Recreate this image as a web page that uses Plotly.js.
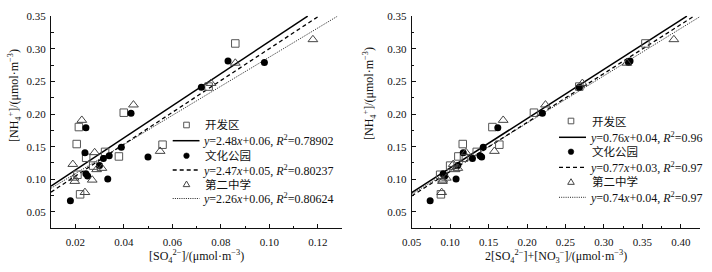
<!DOCTYPE html>
<html><head><meta charset="utf-8">
<script src="https://cdn.plot.ly/plotly-3.0.1.min.js"></script>
<style>html,body{margin:0;padding:0;background:#fff}#chart{width:712px;height:272px}</style>
</head><body><div id="chart"></div>
<script>
// ---------- data: left panel, x = [SO4 2-], y = [NH4+] ----------
const siteNames = ['开发区', '文化公园', '第二中学'];
const kfqSO4 = [0.0215, 0.0206, 0.0245, 0.0209, 0.022, 0.0323, 0.0274, 0.038, 0.040, 0.056, 0.075, 0.086];
const kfqNH4 = [0.180, 0.154, 0.133, 0.107, 0.077, 0.142, 0.121, 0.135, 0.202, 0.153, 0.242, 0.308];
const whgySO4 = [0.018, 0.0244, 0.024, 0.0244, 0.0251, 0.0316, 0.030, 0.034, 0.0334, 0.039, 0.043, 0.050, 0.072, 0.083, 0.098];
const whgyNH4 = [0.067, 0.179, 0.1405, 0.1086, 0.105, 0.132, 0.121, 0.136, 0.1005, 0.149, 0.201, 0.134, 0.241, 0.281, 0.279];
const dezxSO4 = [0.0227, 0.019, 0.0195, 0.0198, 0.024, 0.028, 0.027, 0.0288, 0.031, 0.044, 0.055, 0.076, 0.086, 0.118];
const dezxNH4 = [0.1905, 0.123, 0.102, 0.097, 0.080, 0.141, 0.099, 0.115, 0.117, 0.214, 0.143, 0.247, 0.278, 0.314];
// ---------- data: right panel, x = 2[SO4 2-]+[NO3-] ----------
const kfqSN = [0.155, 0.1164, 0.118, 0.087, 0.088, 0.1346, 0.100, 0.1107, 0.209, 0.164, 0.268, 0.354];
const whgySN = [0.074, 0.162, 0.117, 0.091, 0.093, 0.129, 0.110, 0.139, 0.1077, 0.143, 0.220, 0.141, 0.268, 0.334, 0.332];
const dezxSN = [0.169, 0.104, 0.095, 0.090, 0.089, 0.1207, 0.0903, 0.1064, 0.110, 0.224, 0.1576, 0.272, 0.330, 0.391];
// ---------- fitted lines (slope, intercept as drawn) ----------
const leftSlopes = [2.46, 2.44, 2.23];
const leftIntercepts = [0.065, 0.056, 0.064];
const rightSlopes = [0.755, 0.75, 0.725];
const rightIntercepts = [0.042, 0.037, 0.041];
const leftEqLabels = [
  '<i>y</i>=2.48<i>x</i>+0.06, <i>R</i><sup>2</sup>=0.78902',
  '<i>y</i>=2.47<i>x</i>+0.05, <i>R</i><sup>2</sup>=0.80237',
  '<i>y</i>=2.26<i>x</i>+0.06, <i>R</i><sup>2</sup>=0.80624'];
const rightEqLabels = [
  '<i>y</i>=0.76<i>x</i>+0.04, <i>R</i><sup>2</sup>=0.96',
  '<i>y</i>=0.77<i>x</i>+0.03, <i>R</i><sup>2</sup>=0.97',
  '<i>y</i>=0.74<i>x</i>+0.04, <i>R</i><sup>2</sup>=0.97'];
const xTickLeft = 0.02, xTickRight = 0.05, yTick = 0.05;

// ---------- styles ----------
const W = 712, H = 272;
const SERIF = 'Liberation Serif, Times New Roman, serif';
const CJK = 'Liberation Serif, Noto Sans CJK SC, serif';
const markerStyles = [
  {symbol: 'square-open', size: 7.5, color: '#555', line: {width: 1, color: '#555'}},
  {symbol: 'circle', size: 7, color: '#000', line: {width: 0}},
  {symbol: 'triangle-up-open', size: 8.5, color: '#444', line: {width: 1, color: '#444'}}
];
const lineStyles = [
  {color: '#000', width: 1.5, dash: 'solid'},
  {color: '#000', width: 1.3, dash: '4px,3px'},
  {color: '#222', width: 1, dash: '1px,1.2px'}
];
const xRangeL = [0.01, 0.13], xRangeR = [0.05, 0.425], yRange = [0.025, 0.3505];
const yMax = 0.35;

function fitLine(m, b, xr) {
  const x0 = xr[0];
  const x1 = Math.min(xr[1], (yMax - b) / m);
  return {x: [x0, x1], y: [m * x0 + b, m * x1 + b]};
}

const traces = [];
const leftX = [kfqSO4, whgySO4, dezxSO4], leftY = [kfqNH4, whgyNH4, dezxNH4];
const rightX = [kfqSN, whgySN, dezxSN];
for (let i = 0; i < 3; i++) {
  const l = fitLine(leftSlopes[i], leftIntercepts[i], xRangeL);
  traces.push({x: l.x, y: l.y, mode: 'lines', line: lineStyles[i], xaxis: 'x', yaxis: 'y', name: leftEqLabels[i], hoverinfo: 'skip'});
  const r = fitLine(rightSlopes[i], rightIntercepts[i], xRangeR);
  traces.push({x: r.x, y: r.y, mode: 'lines', line: lineStyles[i], xaxis: 'x2', yaxis: 'y2', name: rightEqLabels[i], hoverinfo: 'skip'});
}
for (let i = 0; i < 3; i++) {
  traces.push({x: leftX[i], y: leftY[i], mode: 'markers', marker: markerStyles[i], xaxis: 'x', yaxis: 'y', name: siteNames[i]});
  traces.push({x: rightX[i], y: leftY[i], mode: 'markers', marker: markerStyles[i], xaxis: 'x2', yaxis: 'y2', name: siteNames[i]});
}

// ---------- axes ----------
const px = v => v / W, py = v => 1 - v / H;
const axisCommon = {
  showline: true, linecolor: '#111', linewidth: 1.2, mirror: false,
  ticks: 'inside', ticklen: 4, tickwidth: 1, tickcolor: '#111',
  showgrid: false, zeroline: false, tickformat: '.2f',
  tickfont: {family: SERIF, size: 11, color: '#111'}
};
const yDomain = [py(228.3), py(15.7)];
const layout = {
  width: W, height: H, showlegend: false,
  margin: {l: 0, r: 0, t: 0, b: 0, pad: 0},
  paper_bgcolor: '#fff', plot_bgcolor: '#fff',
  font: {family: SERIF, size: 11, color: '#111'},
  xaxis: Object.assign({}, axisCommon, {domain: [px(51), px(342)], range: xRangeL, dtick: xTickLeft, tick0: 0, ticklabelstandoff: 3,
    minor: {dtick: xTickLeft / 2, ticks: 'inside', ticklen: 2.5, tickcolor: '#111'}, anchor: 'y'}),
  yaxis: Object.assign({}, axisCommon, {domain: yDomain, range: yRange, dtick: yTick, tick0: 0, ticklabelstandoff: 2,
    minor: {dtick: yTick / 2, ticks: 'inside', ticklen: 2.5, tickcolor: '#111'}, anchor: 'x'}),
  xaxis2: Object.assign({}, axisCommon, {domain: [px(411.7), px(700)], range: xRangeR, dtick: xTickRight, tick0: 0, ticklabelstandoff: 3,
    minor: {dtick: xTickRight / 2, ticks: 'inside', ticklen: 2.5, tickcolor: '#111'}, anchor: 'y2'}),
  yaxis2: Object.assign({}, axisCommon, {domain: yDomain, range: yRange, dtick: yTick, tick0: 0, ticklabelstandoff: 2,
    minor: {dtick: yTick / 2, ticks: 'inside', ticklen: 2.5, tickcolor: '#111'}, anchor: 'x2'}),
  annotations: [], shapes: []
};

// axis titles
const titleFont = {family: SERIF, size: 12, color: '#111'};
layout.annotations.push(
  {text: '[SO<sub>4</sub><sup>2−</sup>]/(μmol·m<sup>−3</sup>)', xref: 'paper', yref: 'paper', x: px(196.5), y: py(256), xanchor: 'center', yanchor: 'middle', showarrow: false, font: titleFont},
  {text: '2[SO<sub>4</sub><sup>2−</sup>]+[NO<sub>3</sub><sup>−</sup>]/(μmol·m<sup>−3</sup>)', xref: 'paper', yref: 'paper', x: px(556), y: py(256), xanchor: 'center', yanchor: 'middle', showarrow: false, font: titleFont},
  {text: '[NH<sub>4</sub><sup>+</sup>]/(μmol·m<sup>−3</sup>)', xref: 'paper', yref: 'paper', x: px(14), y: py(96), xanchor: 'center', yanchor: 'middle', textangle: -90, showarrow: false, font: titleFont},
  {text: '[NH<sub>4</sub><sup>+</sup>]/(μmol·m<sup>−3</sup>)', xref: 'paper', yref: 'paper', x: px(369), y: py(94), xanchor: 'center', yanchor: 'middle', textangle: -90, showarrow: false, font: titleFont}
);

// custom legends
function addLegend(symX, lineX0, lineX1, textX, rows, eqLabels) {
  const s = 2.8;
  for (let i = 0; i < 3; i++) {
    const ym = rows[2 * i], yl = rows[2 * i + 1];
    const ms = markerStyles[i];
    if (i === 0) {
      layout.shapes.push({type: 'rect', xref: 'paper', yref: 'paper', x0: px(symX - s), x1: px(symX + s), y0: py(ym + s), y1: py(ym - s), line: {color: ms.line.color, width: 1}, fillcolor: 'rgba(0,0,0,0)'});
    } else if (i === 1) {
      layout.shapes.push({type: 'circle', xref: 'paper', yref: 'paper', x0: px(symX - s), x1: px(symX + s), y0: py(ym + s), y1: py(ym - s), line: {color: '#000', width: 0.5}, fillcolor: '#000'});
    } else {
      const t = 3.3;
      layout.shapes.push({type: 'path', xref: 'paper', yref: 'paper',
        path: `M ${px(symX - t)} ${py(ym + t * 0.8)} L ${px(symX + t)} ${py(ym + t * 0.8)} L ${px(symX)} ${py(ym - t * 0.9)} Z`,
        line: {color: ms.line.color, width: 1}, fillcolor: 'rgba(0,0,0,0)'});
    }
    layout.annotations.push({text: siteNames[i], xref: 'paper', yref: 'paper', x: px(textX + 2), y: py(ym), xanchor: 'left', yanchor: 'middle', showarrow: false, font: {family: CJK, size: 11.5, color: '#111'}});
    const ls = lineStyles[i];
    layout.shapes.push({type: 'line', xref: 'paper', yref: 'paper', x0: px(lineX0), x1: px(lineX1), y0: py(yl), y1: py(yl), line: {color: ls.color, width: ls.width, dash: ls.dash}});
    layout.annotations.push({text: eqLabels[i], xref: 'paper', yref: 'paper', x: px(textX), y: py(yl), xanchor: 'left', yanchor: 'middle', showarrow: false, font: {family: SERIF, size: 12, color: '#111'}});
  }
}
addLegend(186.5, 172.7, 199.5, 200.5, [125, 140.7, 155.7, 170, 184, 198.5], leftEqLabels);
addLegend(571, 559, 586, 588, [121, 137.3, 151.7, 167.3, 181.7, 197.3], rightEqLabels);

Plotly.newPlot('chart', traces, layout, {displayModeBar: false});
</script></body></html>
